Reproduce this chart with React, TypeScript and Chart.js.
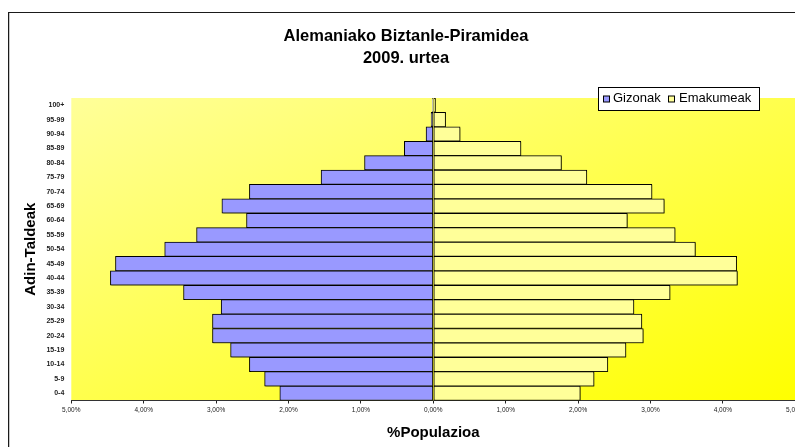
import React, { useEffect, useRef } from "react";
import { Chart, registerables } from "chart.js";

Chart.register(...registerables);

const ageGroups = [
  "100+", "95-99", "90-94", "85-89", "80-84", "75-79", "70-74", "65-69", "60-64", "55-59",
  "50-54", "45-49", "40-44", "35-39", "30-34", "25-29", "20-24", "15-19", "10-14", "5-9", "0-4",
];
const menPct = [
  0.01, 0.03, 0.1, 0.4, 0.95, 1.55, 2.54, 2.92, 2.58, 3.27,
  3.71, 4.39, 4.46, 3.45, 2.93, 3.05, 3.05, 2.8, 2.54, 2.33, 2.12,
];
const womenPct = [
  0.03, 0.17, 0.37, 1.21, 1.77, 2.12, 3.02, 3.19, 2.68, 3.34,
  3.62, 4.19, 4.2, 3.27, 2.77, 2.88, 2.9, 2.66, 2.41, 2.22, 2.03,
];
const seriesNames = ["Gizonak", "Emakumeak"];
const titleLines = ["Alemaniako Biztanle-Piramidea", "2009. urtea"];
const xTitle = "%Populazioa";
const yTitle = "Adin-Taldeak";
const xMin = -5;
const xMax = 5;

const FONT = "'Liberation Sans', Arial, sans-serif";
const MEN_COLOR = "#9999FF";
const WOMEN_COLOR = "#FFFF99";

const CW = 840;
const CH = 447;

export default function App() {
  const ref = useRef<HTMLCanvasElement | null>(null);

  useEffect(() => {
    const canvas = ref.current;
    if (!canvas) return;

    const decor = {
      id: "decor",
      beforeDraw(chart: any) {
        const { ctx, chartArea } = chart;
        ctx.save();
        ctx.fillStyle = "#ffffff";
        ctx.fillRect(0, 0, chart.width, chart.height);
        // frame
        ctx.fillStyle = "#1a1a1a";
        ctx.fillRect(8, 12, 1, CH - 12);
        ctx.fillRect(8, 12, CW - 8, 1);
        ctx.fillStyle = "#c8c8c8";
        ctx.fillRect(9, 13, 1, CH - 13);
        // plot background: diagonal gradient in the box's normalised space
        const w = chartArea.right - chartArea.left;
        const h = chartArea.bottom - chartArea.top;
        const k = (2 * w * h) / (w * w + h * h);
        const g = ctx.createLinearGradient(
          chartArea.left,
          chartArea.top,
          chartArea.left + h * k,
          chartArea.top + w * k
        );
        g.addColorStop(0, "#FFFF99");
        g.addColorStop(1, "#FFFF00");
        ctx.fillStyle = g;
        ctx.fillRect(chartArea.left, chartArea.top, w, h);
        ctx.restore();
      },
      beforeDatasetsDraw(chart: any) {
        const ctx = chart.ctx;
        ctx.save();
        ctx.shadowColor = "rgba(60,60,0,0.45)";
        ctx.shadowOffsetX = 1;
        ctx.shadowOffsetY = 1;
        ctx.shadowBlur = 0;
      },
      afterDatasetsDraw(chart: any) {
        chart.ctx.restore();
      },
      afterDraw(chart: any) {
        const { ctx, chartArea } = chart;
        ctx.save();
        ctx.fillStyle = "#000";
        // main title
        ctx.font = `bold 16.5px ${FONT}`;
        ctx.textAlign = "center";
        ctx.textBaseline = "alphabetic";
        ctx.fillText(titleLines[0], 406, 40.7);
        ctx.fillText(titleLines[1], 406, 62.7);
        // x title
        ctx.font = `bold 15px ${FONT}`;
        ctx.fillText(xTitle, (chartArea.left + chartArea.right) / 2, 436.7);
        // y title
        ctx.save();
        ctx.translate(35, 249.2);
        ctx.rotate(-Math.PI / 2);
        ctx.fillText(yTitle, 0, 0);
        ctx.restore();
        // legend
        const lx = 598.5, ly = 87.5, lw = 161, lh = 23;
        ctx.fillStyle = "#fff";
        ctx.fillRect(lx, ly, lw, lh);
        ctx.strokeStyle = "#000";
        ctx.lineWidth = 1;
        ctx.strokeRect(lx, ly, lw, lh);
        const cy = ly + lh / 2;
        const items = [
          { x: 603.5, tx: 613, color: MEN_COLOR, label: seriesNames[0] },
          { x: 668.5, tx: 679, color: WOMEN_COLOR, label: seriesNames[1] },
        ];
        ctx.font = `13px ${FONT}`;
        ctx.textAlign = "left";
        ctx.textBaseline = "middle";
        for (const it of items) {
          ctx.fillStyle = it.color;
          ctx.fillRect(it.x, cy - 3, 6, 6);
          ctx.strokeStyle = "#000";
          ctx.strokeRect(it.x, cy - 3, 6, 6);
          ctx.fillStyle = "#000";
          ctx.fillText(it.label, it.tx, cy - 1);
        }
        ctx.restore();
      },
    };

    const chart = new Chart(canvas, {
      type: "bar",
      data: {
        labels: ageGroups,
        datasets: [
          {
            label: seriesNames[0],
            data: menPct.map((v) => -v),
            backgroundColor: MEN_COLOR,
            borderColor: "#000",
            borderWidth: 1,
            borderSkipped: false,
            barPercentage: 1,
            categoryPercentage: 1,
          },
          {
            label: seriesNames[1],
            data: womenPct,
            backgroundColor: WOMEN_COLOR,
            borderColor: "#000",
            borderWidth: 1,
            borderSkipped: false,
            barPercentage: 1,
            categoryPercentage: 1,
          },
        ],
      },
      options: {
        indexAxis: "y",
        animation: false,
        responsive: false,
        maintainAspectRatio: false,
        devicePixelRatio: 1,
        layout: { padding: { top: 98, left: 0, right: CW - 795.3, bottom: 0 } },
        plugins: {
          legend: { display: false },
          title: { display: false },
          tooltip: { enabled: false },
        },
        scales: {
          x: {
            type: "linear",
            stacked: true,
            min: xMin,
            max: xMax,
            afterFit: (s: any) => {
              s.height = CH - 400.5;
            },
            ticks: {
              stepSize: 1,
              padding: 3,
              color: "#222",
              font: { family: FONT, size: 6.5 },
              callback: (v: any) => Math.abs(Number(v)).toFixed(2).replace(".", ",") + "%",
            },
            grid: {
              display: true,
              drawOnChartArea: false,
              drawTicks: true,
              tickLength: 3,
              color: "#222",
            },
            border: { display: true, color: "#333", width: 1 },
          },
          y: {
            type: "category",
            stacked: true,
            afterFit: (s: any) => {
              s.width = 71.3;
            },
            ticks: {
              autoSkip: false,
              padding: 7,
              color: "#222",
              font: { family: FONT, size: 7, weight: "bold" },
            },
            grid: { display: false, drawTicks: false },
            border: { display: false },
          },
        },
      },
      plugins: [decor],
    } as any);

    return () => chart.destroy();
  }, []);

  return (
    <div style={{ position: "fixed", left: 0, top: 0, width: 795, height: 447, overflow: "hidden", background: "#fff" }}>
      <canvas ref={ref} width={CW} height={CH} style={{ display: "block", width: CW, height: CH }} />
    </div>
  );
}
